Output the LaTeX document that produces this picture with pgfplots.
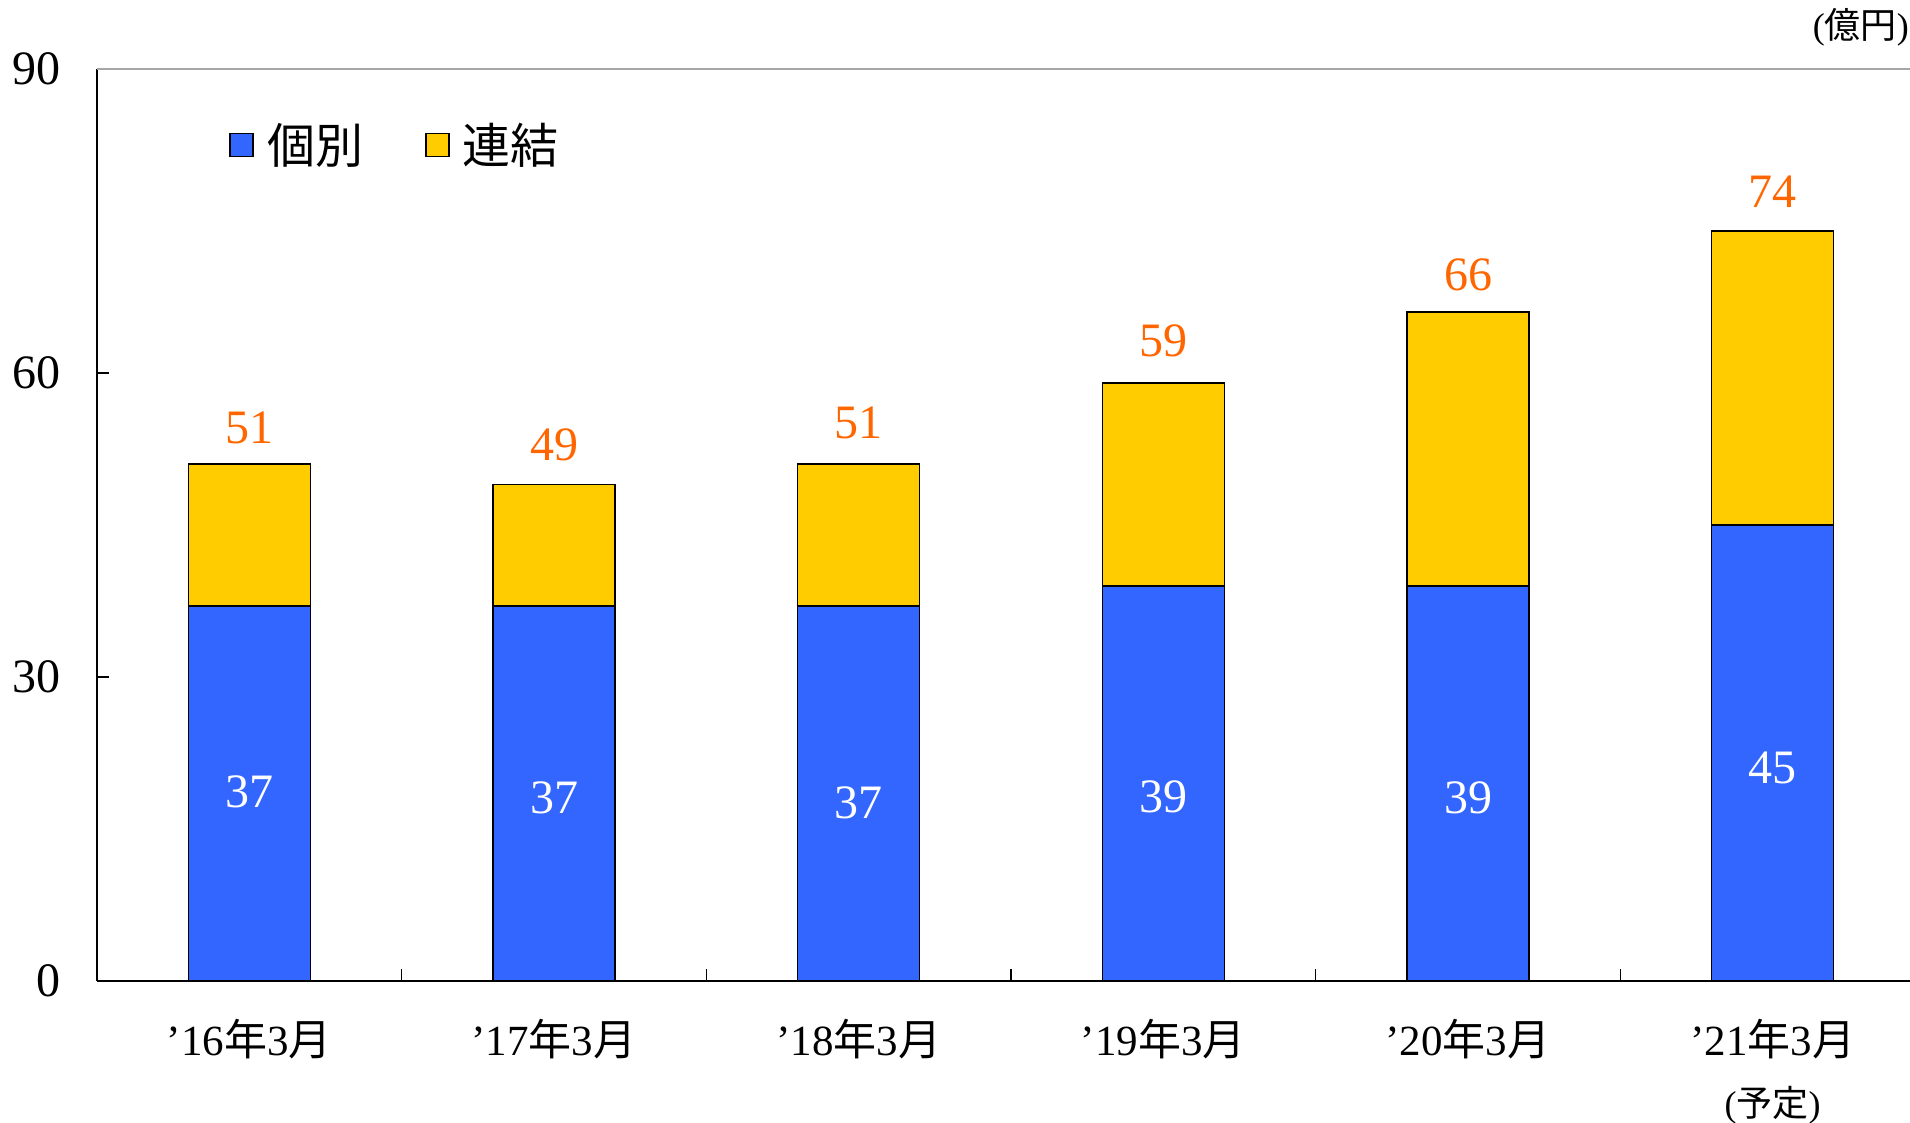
\documentclass[border=0pt]{standalone}
\usepackage{fontspec}
\setmainfont{Liberation Serif}
\newfontfamily\jp{Noto Sans CJK JP}
\usepackage{pgfplots}
\pgfplotsset{compat=1.18}
\usepackage{pgfplotstable}
\definecolor{kblue}{HTML}{3366FF}
\definecolor{kyellow}{HTML}{FFCC00}
\definecolor{korange}{HTML}{FF6600}
\newcommand\lbl[1]{’#1{\jp 年}3{\jp 月}}

\pgfplotstableread{
x ind tot ly ty
0 37 51 18.65 54.63
1 37 49 18.05 52.94
2 37 51 17.57 55.10
3 39 59 18.17 63.17
4 39 66 18.05 69.67
5 45 74 21.06 77.85
}\data

\begin{document}
\begin{tikzpicture}
\path[use as bounding box] (-48.5pt,-71pt) rectangle (906.5pt,490.5pt);
\begin{axis}[
  at={(0pt,0pt)}, anchor=south west,
  scale only axis, width=914pt, height=456pt,
  xmin=-0.5, xmax=5.5, ymin=0, ymax=90,
  axis x line*=bottom, axis y line*=left,
  axis line style={line width=1pt, black},
  tick pos=left, tick align=inside, major tick length=6pt,
  tick style={black, line width=0.8pt},
  ytick={0,30,60,90},
  yticklabel style={font=\fontsize{24}{24}\selectfont, anchor=east, xshift=-14.5pt},
  xtick={0.5,1.5,2.5,3.5,4.5}, xticklabels={},
  extra x ticks={0,1,2,3,4,5},
  extra x tick labels={\lbl{16},\lbl{17},\lbl{18},\lbl{19},\lbl{20},\lbl{21}},
  extra x tick style={major tick length=0pt},
  xticklabel style={font=\fontsize{21.5}{21.5}\selectfont, anchor=center, yshift=-29pt},
  /pgf/number format/assume math mode=true,
  clip=false,
  legend style={draw=none, fill=none, inner sep=0pt, nodes={inner sep=0pt},
    at={(rel axis cs:0.0722,0.9167)}, anchor=west, legend columns=2,
    font=\fontsize{24}{24}\selectfont\jp,
    /tikz/every odd column/.append style={column sep=6.7pt},
    /tikz/every even column/.append style={column sep=31pt}},
]
\addlegendimage{legend image code/.code={\draw[draw=black,fill=kblue,line width=0.7pt] (0pt,-5.75pt) rectangle (11.5pt,5.75pt);}}
\addlegendentry{個別}
\addlegendimage{legend image code/.code={\draw[draw=black,fill=kyellow,line width=0.7pt] (0pt,-5.75pt) rectangle (11.5pt,5.75pt);}}
\addlegendentry{連結}

\addplot[ybar, bar width=61pt, fill=kyellow, draw=black, line width=0.8pt, forget plot] table[x=x,y=tot]{\data};
\addplot[ybar, bar width=61pt, fill=kblue, draw=black, line width=0.8pt, forget plot] table[x=x,y=ind]{\data};

\addplot[only marks, mark size=0pt, forget plot, nodes near coords, point meta=explicit symbolic,
  nodes near coords style={anchor=center, text=white, font=\fontsize{24}{24}\selectfont}]
  table[x=x, y=ly, meta=ind]{\data};
\addplot[only marks, mark size=0pt, forget plot, nodes near coords, point meta=explicit symbolic,
  nodes near coords style={anchor=center, text=korange, font=\fontsize{24}{24}\selectfont}]
  table[x=x, y=ty, meta=tot]{\data};

\draw[gray!70, line width=1pt] (rel axis cs:0,1) -- (rel axis cs:1,1);
\node[anchor=east, xshift=-4.5pt, yshift=21pt, font=\fontsize{18}{18}\selectfont] at (rel axis cs:1,1) {({\jp 億円})};
\node[font=\fontsize{18}{18}\selectfont, yshift=-62pt] at (axis cs:5,0) {({\jp 予定})};
\end{axis}
\end{tikzpicture}
\end{document}
